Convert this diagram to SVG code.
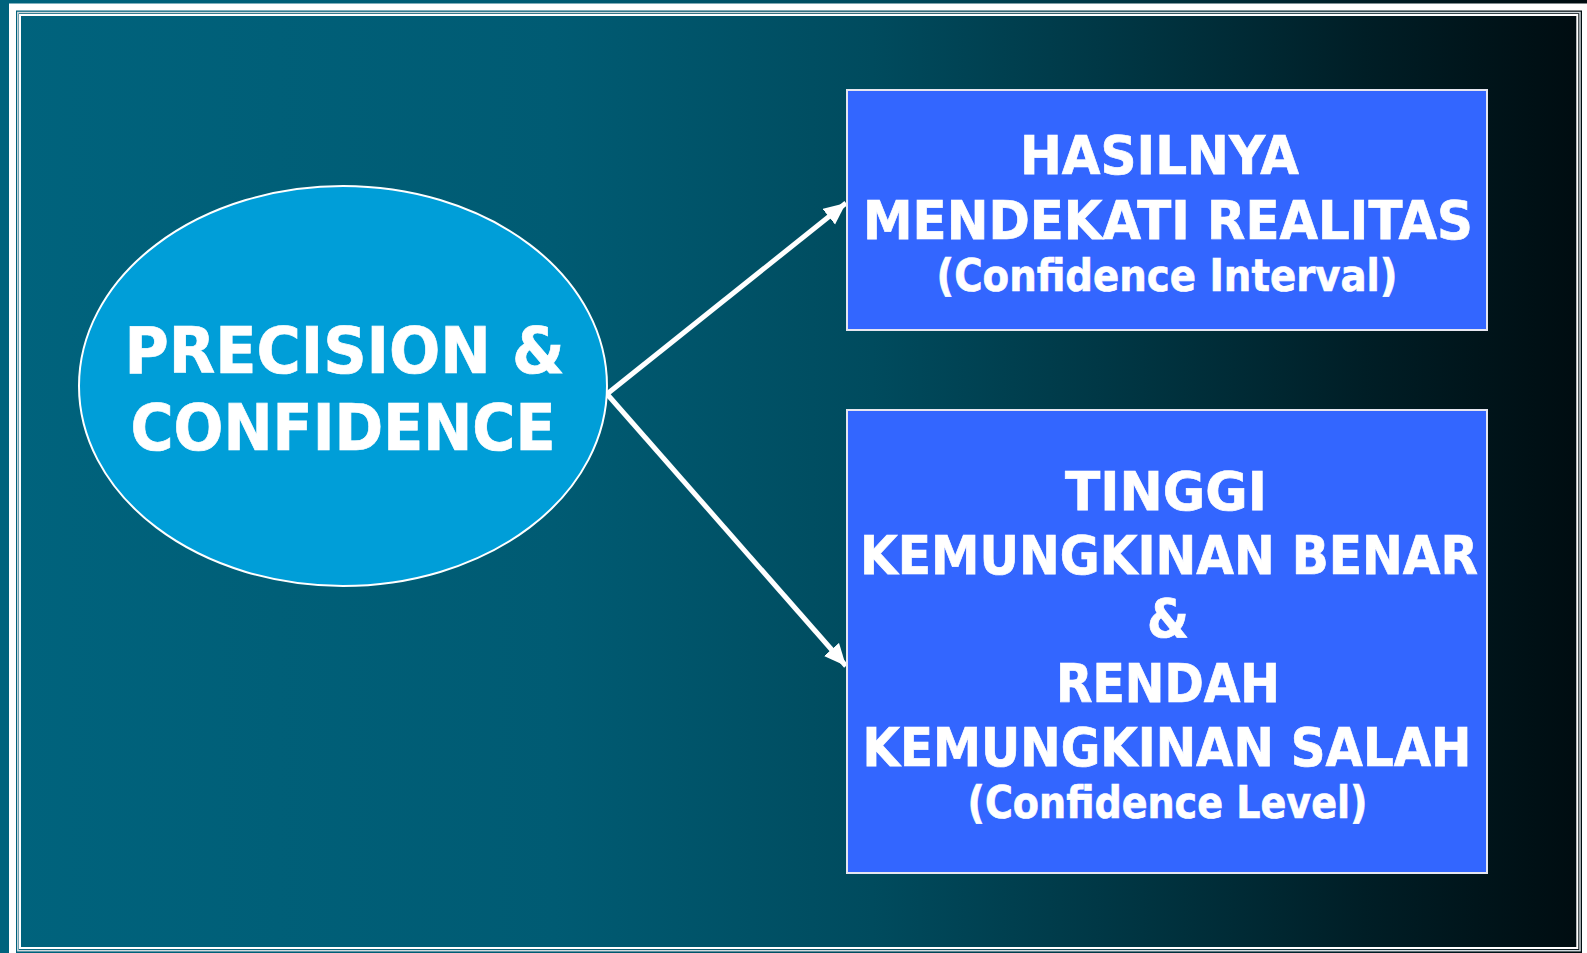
<svg xmlns="http://www.w3.org/2000/svg" width="1587" height="953" viewBox="0 0 1587 953">
<defs>
<linearGradient id="bg" x1="0" y1="0" x2="1587" y2="0" gradientUnits="userSpaceOnUse">
<stop offset="0" stop-color="#00637d"/>
<stop offset="0.35" stop-color="#005b73"/>
<stop offset="0.55" stop-color="#004b5e"/>
<stop offset="0.72" stop-color="#003441"/>
<stop offset="0.86" stop-color="#001e26"/>
<stop offset="1" stop-color="#000c10"/>
</linearGradient>
<marker id="ah" markerUnits="userSpaceOnUse" markerWidth="26" markerHeight="24" refX="22" refY="10" orient="auto">
<path d="M0,0 L22,10 L0,20 Z" fill="#ffffff"/>
</marker>
<style>
.t{font-family:"DejaVu Sans","Liberation Sans",sans-serif;font-weight:bold;fill:#ffffff;stroke:#ffffff;stroke-width:0.7;text-anchor:middle;}
.big{font-size:53px;}
.small{font-size:45px;}
.ell{font-size:64px;}
.box{fill:#3366ff;stroke:#e6e6f0;stroke-width:2;}
.conn{stroke:#ffffff;stroke-width:5;fill:none;marker-end:url(#ah);}
</style>
</defs>
<rect x="0" y="0" width="1587" height="953" fill="url(#bg)"/>
<g id="frame" fill="none">
<rect x="12.5" y="7" width="1573" height="1000" stroke="#ffffff" stroke-width="7"/>
<rect x="17.8" y="12.5" width="1562.2" height="938.2" stroke="#d0d8dc" stroke-width="1.5"/>
<rect x="20" y="15" width="1557.3" height="933" stroke="#ffffff" stroke-width="2"/>
</g>
<g id="connectors">
<line class="conn" x1="607" y1="394" x2="846" y2="203"/>
<line class="conn" x1="607" y1="394" x2="846" y2="666"/>
</g>
<g id="node-precision">
<ellipse cx="343" cy="386" rx="264" ry="200" fill="#009ed8" stroke="#ffffff" stroke-width="2"/>
<text class="t ell" x="344.5" y="373" textLength="440" lengthAdjust="spacingAndGlyphs">PRECISION &amp;</text>
<text class="t ell" x="343" y="449.5" textLength="425" lengthAdjust="spacingAndGlyphs">CONFIDENCE</text>
</g>
<g id="node-interval">
<rect class="box" x="847" y="90" width="640" height="240"/>
<text class="t big" x="1159.5" y="174" textLength="279" lengthAdjust="spacingAndGlyphs">HASILNYA</text>
<text class="t big" x="1168" y="238.5" textLength="610" lengthAdjust="spacingAndGlyphs">MENDEKATI REALITAS</text>
<text class="t small" x="1167" y="290.5" textLength="461" lengthAdjust="spacingAndGlyphs">(Confidence Interval)</text>
</g>
<g id="node-level">
<rect class="box" x="847" y="410" width="640" height="463"/>
<text class="t big" x="1166" y="510" textLength="202" lengthAdjust="spacingAndGlyphs">TINGGI</text>
<text class="t big" x="1169" y="574" textLength="618" lengthAdjust="spacingAndGlyphs">KEMUNGKINAN BENAR</text>
<text class="t big" x="1168" y="637" textLength="42" lengthAdjust="spacingAndGlyphs">&amp;</text>
<text class="t big" x="1168" y="701.5" textLength="224" lengthAdjust="spacingAndGlyphs">RENDAH</text>
<text class="t big" x="1167" y="766" textLength="609" lengthAdjust="spacingAndGlyphs">KEMUNGKINAN SALAH</text>
<text class="t small" x="1167.5" y="818" textLength="400" lengthAdjust="spacingAndGlyphs">(Confidence Level)</text>
</g>
</svg>
